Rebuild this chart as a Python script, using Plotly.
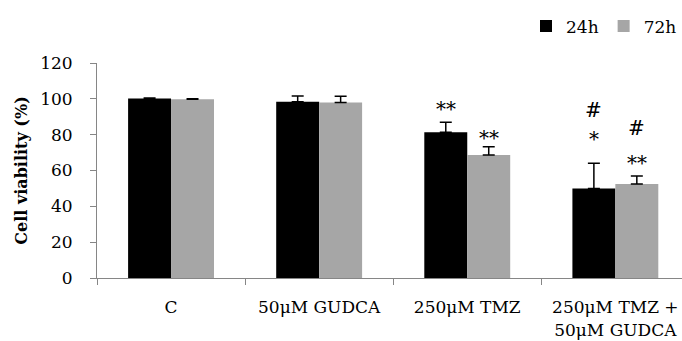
import plotly.graph_objects as go

categories = ["C", "50μM GUDCA", "250μM TMZ", "250μM TMZ +<br>50μM GUDCA"]
vals_24h = [100.2, 98.4, 81.3, 50.0]
err_24h = [0.3, 3.2, 5.6, 14.0]
vals_72h = [99.7, 98.0, 68.6, 52.5]
err_72h = [0.3, 3.5, 4.7, 4.4]
y_ticks = [0, 20, 40, 60, 80, 100, 120]

# significance marks: (category index, series offset sign, text, y in data units)
marks = [
    (2, -1, "**", 94.5),
    (2, 1, "**", 78.0),
    (3, -1, "#", 94.0),
    (3, -1, "*", 77.5),
    (3, 1, "#", 83.5),
    (3, 1, "**", 64.0),
]

FONT = "DejaVu Serif"
BLACK = "#000000"

fig = go.Figure()
fig.add_trace(go.Bar(
    name="24h", x=categories, y=vals_24h, marker_color=BLACK,
    marker_line_width=0,
    error_y=dict(type="data", symmetric=False, array=err_24h,
                 arrayminus=[0] * len(err_24h), color=BLACK,
                 thickness=1.5, width=6),
))
fig.add_trace(go.Bar(
    name="72h", x=categories, y=vals_72h, marker_color="#a6a6a6",
    marker_line_width=0,
    error_y=dict(type="data", symmetric=False, array=err_72h,
                 arrayminus=[0] * len(err_72h), color=BLACK,
                 thickness=1.5, width=6),
))

for ci, sign, txt, yv in marks:
    fig.add_annotation(x=categories[ci], y=yv, text=txt, showarrow=False,
                       xshift=sign * 21.5, yanchor="middle",
                       font=dict(family=FONT, size=20, color=BLACK))

fig.update_layout(
    template="none",
    width=682, height=341,
    margin=dict(l=97, r=0, t=63, b=63, pad=0, autoexpand=False),
    paper_bgcolor="white", plot_bgcolor="white",
    barmode="group", bargap=0.42, bargroupgap=0,
    font=dict(family=FONT, size=15, color=BLACK),
    legend=dict(orientation="h", x=1.0, xanchor="right",
                yref="container", y=0.975, yanchor="top",
                font=dict(family=FONT, size=17, color=BLACK),
                itemwidth=30, tracegroupgap=0, bgcolor="rgba(0,0,0,0)"),
    showlegend=True,
)
fig.update_xaxes(
    range=[-0.5, 3.45], showline=True, linecolor="#868686", linewidth=1,
    ticks="outside", tickson="boundaries", ticklen=6, tickcolor="#868686",
    showgrid=False, zeroline=False, ticklabelstandoff=14, automargin=False,
    tickfont=dict(family=FONT, size=17, color=BLACK),
)
fig.update_yaxes(
    range=[0, 120], tickvals=y_ticks, showline=True, linecolor="#868686",
    linewidth=1, ticks="outside", ticklen=6, tickcolor="#868686",
    showgrid=False, zeroline=False, ticklabelstandoff=14, automargin=False,
    tickfont=dict(family=FONT, size=17, color=BLACK),
    title=dict(text="<b>Cell viability (%)</b>",
               font=dict(family=FONT, size=16, color=BLACK), standoff=8),
)

fig.write_html("out.html")
